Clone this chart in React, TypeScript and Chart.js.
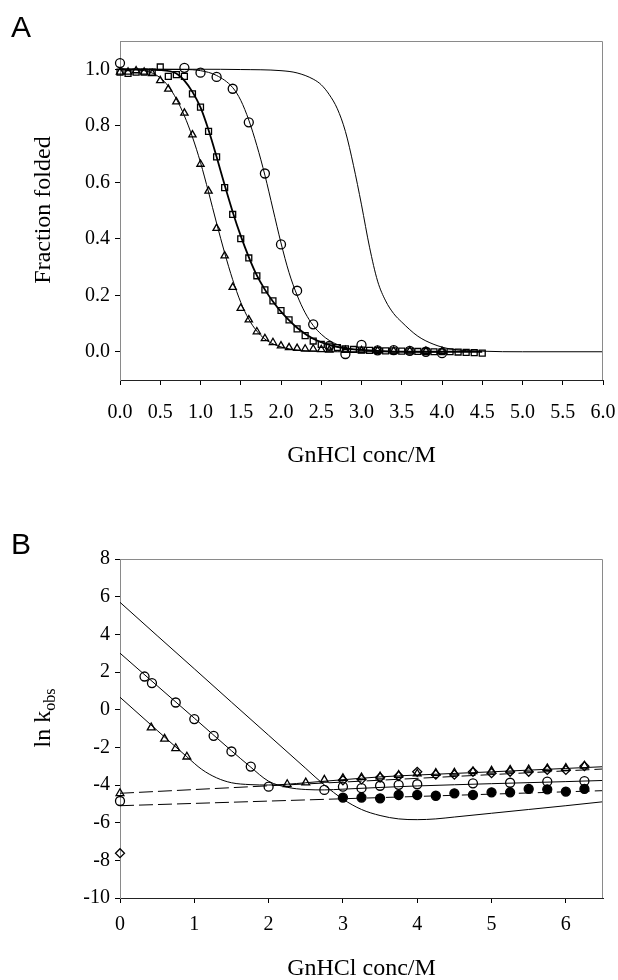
import React, { useEffect, useRef } from 'react';
import { Chart, registerables } from 'chart.js';

Chart.register(...registerables);

// ---------- Panel A data ----------
const xTicksA = [0, 0.5, 1, 1.5, 2, 2.5, 3, 3.5, 4, 4.5, 5, 5.5, 6];
const yTicksA = [0, 0.2, 0.4, 0.6, 0.8, 1.0];

const triAX = [0, 0.1, 0.2, 0.3, 0.4, 0.5, 0.6, 0.7, 0.8, 0.9, 1.0, 1.1, 1.2, 1.3, 1.4, 1.5, 1.6, 1.7, 1.8, 1.9, 2.0, 2.1, 2.2, 2.3, 2.4, 2.5, 2.6, 2.8, 3.0, 3.2, 3.4, 3.6, 3.8, 4.0];
const triAY = [0.99, 0.99, 0.995, 0.99, 0.985, 0.96, 0.93, 0.885, 0.845, 0.768, 0.664, 0.569, 0.437, 0.34, 0.228, 0.154, 0.113, 0.071, 0.047, 0.033, 0.021, 0.015, 0.012, 0.01, 0.01, 0.008, 0.006, 0.005, 0.004, 0.004, 0.003, 0.003, 0.002, 0.002];

const sqAX = [0, 0.1, 0.2, 0.3, 0.4, 0.5, 0.6, 0.7, 0.8, 0.9, 1.0, 1.1, 1.2, 1.3, 1.4, 1.5, 1.6, 1.7, 1.8, 1.9, 2.0, 2.1, 2.2, 2.3, 2.4, 2.5, 2.6, 2.7, 2.8, 2.9, 3.0, 3.1, 3.2, 3.3, 3.4, 3.5, 3.6, 3.7, 3.8, 3.9, 4.0, 4.1, 4.2, 4.3, 4.4, 4.5];
const sqAY = [0.99, 0.985, 0.99, 0.99, 0.99, 1.008, 0.975, 0.981, 0.975, 0.913, 0.866, 0.78, 0.69, 0.581, 0.486, 0.4, 0.332, 0.269, 0.219, 0.18, 0.146, 0.113, 0.081, 0.057, 0.038, 0.026, 0.02, 0.015, 0.01, 0.008, 0.006, 0.005, 0.004, 0.003, 0.003, 0.002, 0.002, 0.001, 0.001, 0.0, 0.0, 0.0, -0.001, -0.002, -0.003, -0.005];

const circAX = [0, 0.8, 1.0, 1.2, 1.4, 1.6, 1.8, 2.0, 2.2, 2.4, 2.6, 2.8, 3.0, 3.2, 3.4, 3.6, 3.8, 4.0];
const circAY = [1.022, 1.005, 0.988, 0.973, 0.931, 0.812, 0.631, 0.38, 0.216, 0.097, 0.021, -0.008, 0.024, 0.005, 0.006, 0.003, 0.0, -0.005];

const fitTriX = [0, 0.3, 0.5, 0.6, 0.7, 0.8, 0.9, 1.0, 1.1, 1.2, 1.3, 1.4, 1.5, 1.6, 1.7, 1.8, 1.9, 2.0, 2.2, 2.4, 2.7, 3.2, 4.0];
const fitTriY = [1.0, 0.995, 0.97, 0.94, 0.895, 0.835, 0.76, 0.67, 0.565, 0.455, 0.35, 0.255, 0.175, 0.115, 0.073, 0.045, 0.028, 0.017, 0.006, 0.002, 0.0, 0.0, 0.0];

const fitSqX = [0, 0.5, 0.7, 0.8, 0.9, 1.0, 1.1, 1.2, 1.3, 1.4, 1.5, 1.6, 1.7, 1.8, 1.9, 2.0, 2.2, 2.4, 2.6, 2.8, 3.2, 3.6, 4.5];
const fitSqY = [1.0, 0.997, 0.985, 0.96, 0.92, 0.865, 0.785, 0.69, 0.59, 0.495, 0.41, 0.335, 0.27, 0.22, 0.178, 0.142, 0.085, 0.046, 0.024, 0.012, 0.003, 0.0, 0.0];

const fitCircX = [0, 0.8, 1.0, 1.2, 1.4, 1.5, 1.6, 1.7, 1.8, 1.9, 2.0, 2.1, 2.2, 2.3, 2.4, 2.5, 2.6, 2.8, 3.0, 3.4, 4.0];
const fitCircY = [1.0, 0.999, 0.995, 0.978, 0.935, 0.89, 0.82, 0.73, 0.625, 0.505, 0.385, 0.28, 0.2, 0.138, 0.093, 0.062, 0.04, 0.015, 0.005, 0.001, 0.0];

const fitRefX = [0, 1.0, 1.5, 2.0, 2.2, 2.4, 2.5, 2.6, 2.7, 2.8, 2.9, 3.0, 3.1, 3.2, 3.3, 3.4, 3.5, 3.7, 3.9, 4.1, 4.5, 5.0, 6.0];
const fitRefY = [1.0, 1.0, 0.999, 0.995, 0.987, 0.965, 0.945, 0.91, 0.86, 0.78, 0.66, 0.52, 0.37, 0.25, 0.18, 0.135, 0.105, 0.055, 0.026, 0.01, 0.002, 0.0, 0.0];

// ---------- Panel B data ----------
const xTicksB = [0, 1, 2, 3, 4, 5, 6];
const yTicksB = [-10, -8, -6, -4, -2, 0, 2, 4, 6, 8];

const chevX = [0, 0.5, 1, 1.5, 2, 2.5, 2.75, 3.0, 3.25, 3.5, 3.75, 4.0, 4.25, 4.5, 5.0, 5.5, 6.0, 6.5];
const chevY = [5.7, 3.93, 2.17, 0.4, -1.36, -3.12, -4.0, -4.75, -5.3, -5.62, -5.8, -5.84, -5.8, -5.7, -5.5, -5.3, -5.1, -4.89];

const circFitX = [0, 0.5, 1.0, 1.5, 1.75, 2.0, 2.25, 2.5, 2.75, 3.0, 3.5, 4.0, 5.0, 6.0, 6.5];
const circFitY = [3.0, 1.27, -0.45, -2.18, -3.02, -3.8, -4.12, -4.24, -4.26, -4.22, -4.13, -4.05, -3.93, -3.82, -3.76];

const triFitX = [0, 0.5, 0.9, 1.1, 1.3, 1.5, 1.75, 2.0, 2.25, 2.5, 3.0, 3.5, 4.0, 5.0, 6.0, 6.5];
const triFitY = [0.66, -1.1, -2.5, -3.17, -3.62, -3.88, -3.98, -4.0, -3.96, -3.88, -3.72, -3.57, -3.47, -3.3, -3.12, -3.03];

const dashUpX = [0, 6.5];
const dashUpY = [-4.44, -3.15];
const dashLoX = [0, 6.5];
const dashLoY = [-5.1, -4.3];

const openTriBX = [0, 0.42, 0.6, 0.75, 0.9, 2.25, 2.5, 2.75, 3.0, 3.25, 3.5, 3.75, 4.0, 4.25, 4.5, 4.75, 5.0, 5.25, 5.5, 5.75, 6.0, 6.25];
const openTriBY = [-4.44, -0.95, -1.55, -2.05, -2.5, -3.96, -3.87, -3.73, -3.64, -3.6, -3.55, -3.47, -3.4, -3.37, -3.35, -3.28, -3.25, -3.2, -3.18, -3.12, -3.1, -2.98];

const openCircBX = [0, 0.33, 0.43, 0.75, 1.0, 1.26, 1.5, 1.76, 2.0, 2.75, 3.0, 3.25, 3.5, 3.75, 4.0, 4.75, 5.25, 5.75, 6.25];
const openCircBY = [-4.85, 1.76, 1.41, 0.38, -0.5, -1.39, -2.22, -3.02, -4.09, -4.26, -4.09, -4.17, -4.04, -3.99, -3.96, -3.91, -3.88, -3.82, -3.79];

const filledBX = [3.0, 3.25, 3.5, 3.75, 4.0, 4.25, 4.5, 4.75, 5.0, 5.25, 5.5, 5.75, 6.0, 6.25];
const filledBY = [-4.67, -4.67, -4.71, -4.53, -4.53, -4.57, -4.44, -4.53, -4.39, -4.39, -4.21, -4.23, -4.35, -4.21];

const diamBX = [0, 3.0, 3.25, 3.5, 3.75, 4.0, 4.25, 4.5, 4.75, 5.0, 5.25, 5.5, 5.75, 6.0, 6.25];
const diamBY = [-7.62, -3.75, -3.7, -3.6, -3.52, -3.3, -3.45, -3.45, -3.3, -3.37, -3.3, -3.3, -3.2, -3.2, -3.0];

// ---------- helpers ----------
const SERIF = "'Liberation Serif', 'Times New Roman', serif";
const SANS = "'Liberation Sans', Arial, sans-serif";

const pts = (xs: number[], ys: number[]) => xs.map((x, i) => ({ x, y: ys[i] }));

const curve = (xs: number[], ys: number[], width = 1, dash: number[] = []) => ({
  data: pts(xs, ys),
  showLine: true,
  pointRadius: 0,
  borderColor: '#000',
  borderWidth: width,
  borderDash: dash,
  cubicInterpolationMode: 'monotone',
  fill: false,
  order: 2,
});

const marks = (xs: number[], ys: number[], style: string, radius: number, filled = false) => ({
  data: pts(xs, ys),
  showLine: false,
  pointStyle: style,
  pointRadius: radius,
  pointBorderWidth: 1.3,
  pointBorderColor: '#000',
  pointBackgroundColor: filled ? '#000' : 'rgba(0,0,0,0)',
  clip: false,
  order: 1,
});

const framePlugin = {
  id: 'frame',
  afterDraw(chart: any) {
    const { ctx, chartArea: a } = chart;
    ctx.save();
    ctx.strokeStyle = '#8a8a8a';
    ctx.lineWidth = 1;
    const t = Math.round(a.top) + 0.5;
    const r = Math.round(a.right) - 0.5;
    ctx.beginPath();
    ctx.moveTo(a.left, t);
    ctx.lineTo(r, t);
    ctx.lineTo(r, a.bottom);
    ctx.stroke();
    ctx.restore();
  },
};

const textPlugin = {
  id: 'texts',
  afterDraw(chart: any, _args: any, o: any) {
    const { ctx, chartArea: a } = chart;
    ctx.save();
    ctx.fillStyle = '#000';
    ctx.font = `${o.letterSize}px ${SANS}`;
    ctx.textAlign = 'left';
    ctx.textBaseline = 'middle';
    ctx.fillText(o.letter, o.letterX, o.letterY);

    ctx.font = `${o.titleSize}px ${SERIF}`;
    ctx.textAlign = 'center';
    ctx.fillText(o.xTitle, (a.left + a.right) / 2, o.xTitleY);

    ctx.translate(o.yTitleX, o.yTitleY);
    ctx.rotate(-Math.PI / 2);
    if (o.ySub) {
      const mainW = ctx.measureText(o.yTitle).width;
      ctx.font = `${o.subSize}px ${SERIF}`;
      const subW = ctx.measureText(o.ySub).width;
      const total = mainW + subW;
      ctx.textAlign = 'left';
      ctx.font = `${o.titleSize}px ${SERIF}`;
      ctx.fillText(o.yTitle, -total / 2, 0);
      ctx.font = `${o.subSize}px ${SERIF}`;
      ctx.fillText(o.ySub, -total / 2 + mainW, 7);
    } else {
      ctx.fillText(o.yTitle, 0, 0);
    }
    ctx.restore();
  },
};

const axisX = (min: number, max: number, ticks: number[], decimals: number, height: number, pad: number) => ({
  type: 'linear',
  position: 'bottom',
  min,
  max,
  afterBuildTicks: (ax: any) => {
    ax.ticks = ticks.map((v) => ({ value: v }));
  },
  afterFit: (ax: any) => {
    ax.height = height;
    ax.paddingLeft = 0;
    ax.paddingRight = 0;
  },
  ticks: {
    callback: (v: any) => Number(v).toFixed(decimals),
    font: { family: SERIF, size: 20 },
    color: '#000',
    padding: pad,
    maxRotation: 0,
    autoSkip: false,
  },
  grid: { display: true, drawOnChartArea: false, drawTicks: true, tickLength: 5, color: '#000' },
  border: { display: true, color: '#222', width: 1 },
});

const axisY = (min: number, max: number, ticks: number[], decimals: number) => ({
  type: 'linear',
  position: 'left',
  min,
  max,
  afterBuildTicks: (ax: any) => {
    ax.ticks = ticks.map((v) => ({ value: v }));
  },
  afterFit: (ax: any) => {
    ax.width = 120;
    ax.paddingTop = 0;
    ax.paddingBottom = 0;
  },
  ticks: {
    callback: (v: any) => Number(v).toFixed(decimals),
    font: { family: SERIF, size: 20 },
    color: '#000',
    padding: 5,
    autoSkip: false,
  },
  grid: { display: true, drawOnChartArea: false, drawTicks: true, tickLength: 5, color: '#000' },
  border: { display: true, color: '#8a8a8a', width: 1 },
});

export default function App() {
  const refA = useRef<HTMLCanvasElement>(null);
  const refB = useRef<HTMLCanvasElement>(null);

  useEffect(() => {
    const chartA = new Chart(refA.current as HTMLCanvasElement, {
      type: 'scatter',
      data: {
        datasets: [
          marks(circAX, circAY, 'circle', 4.5),
          marks(sqAX, sqAY, 'rect', 4.2),
          marks(triAX, triAY, 'triangle', 4.2),
          curve(fitTriX, fitTriY, 1),
          curve(fitSqX, fitSqY, 1.8),
          curve(fitCircX, fitCircY, 1),
          curve(fitRefX, fitRefY, 1),
        ] as any,
      },
      options: {
        responsive: false,
        animation: false,
        devicePixelRatio: 1,
        layout: { padding: { left: 0, right: 15, top: 41, bottom: 0 } },
        scales: {
          x: axisX(0, 6, xTicksA, 1, 110, 16),
          y: axisY(-0.1, 1.1, yTicksA, 1),
        } as any,
        plugins: {
          legend: { display: false },
          tooltip: { enabled: false },
          texts: {
            letter: 'A', letterSize: 30, letterX: 11, letterY: 29,
            xTitle: 'GnHCl conc/M', xTitleY: 456, titleSize: 24,
            yTitle: 'Fraction folded', yTitleX: 44, yTitleY: 210,
          },
        } as any,
      },
      plugins: [framePlugin, textPlugin],
    });

    const chartB = new Chart(refB.current as HTMLCanvasElement, {
      type: 'scatter',
      data: {
        datasets: [
          marks(filledBX, filledBY, 'circle', 4.5, true),
          marks(openCircBX, openCircBY, 'circle', 4.5),
          marks(diamBX, diamBY, 'rectRot', 4.5),
          marks(openTriBX, openTriBY, 'triangle', 4.5),
          curve(chevX, chevY, 1),
          curve(circFitX, circFitY, 1),
          curve(triFitX, triFitY, 1),
          curve(dashUpX, dashUpY, 1, [14, 5]),
          curve(dashLoX, dashLoY, 1, [14, 5]),
        ] as any,
      },
      options: {
        responsive: false,
        animation: false,
        devicePixelRatio: 1,
        layout: { padding: { left: 0, right: 15, top: 69, bottom: 0 } },
        scales: {
          x: axisX(0, 6.5, xTicksB, 0, 82, 10),
          y: axisY(-10, 8, yTicksB, 0),
        } as any,
        plugins: {
          legend: { display: false },
          tooltip: { enabled: false },
          texts: {
            letter: 'B', letterSize: 30, letterX: 11, letterY: 56,
            xTitle: 'GnHCl conc/M', xTitleY: 479, titleSize: 24,
            yTitle: 'ln k', ySub: 'obs', subSize: 16, yTitleX: 44, yTitleY: 228,
          },
        } as any,
      },
      plugins: [framePlugin, textPlugin],
    });

    return () => {
      chartA.destroy();
      chartB.destroy();
    };
  }, []);

  return (
    <div style={{ position: 'absolute', left: 0, top: 0, width: 618, height: 980, background: '#fff' }}>
      <canvas ref={refA} width={618} height={490} style={{ position: 'absolute', left: 0, top: 0, display: 'block' }} />
      <canvas ref={refB} width={618} height={490} style={{ position: 'absolute', left: 0, top: 490, display: 'block' }} />
    </div>
  );
}
